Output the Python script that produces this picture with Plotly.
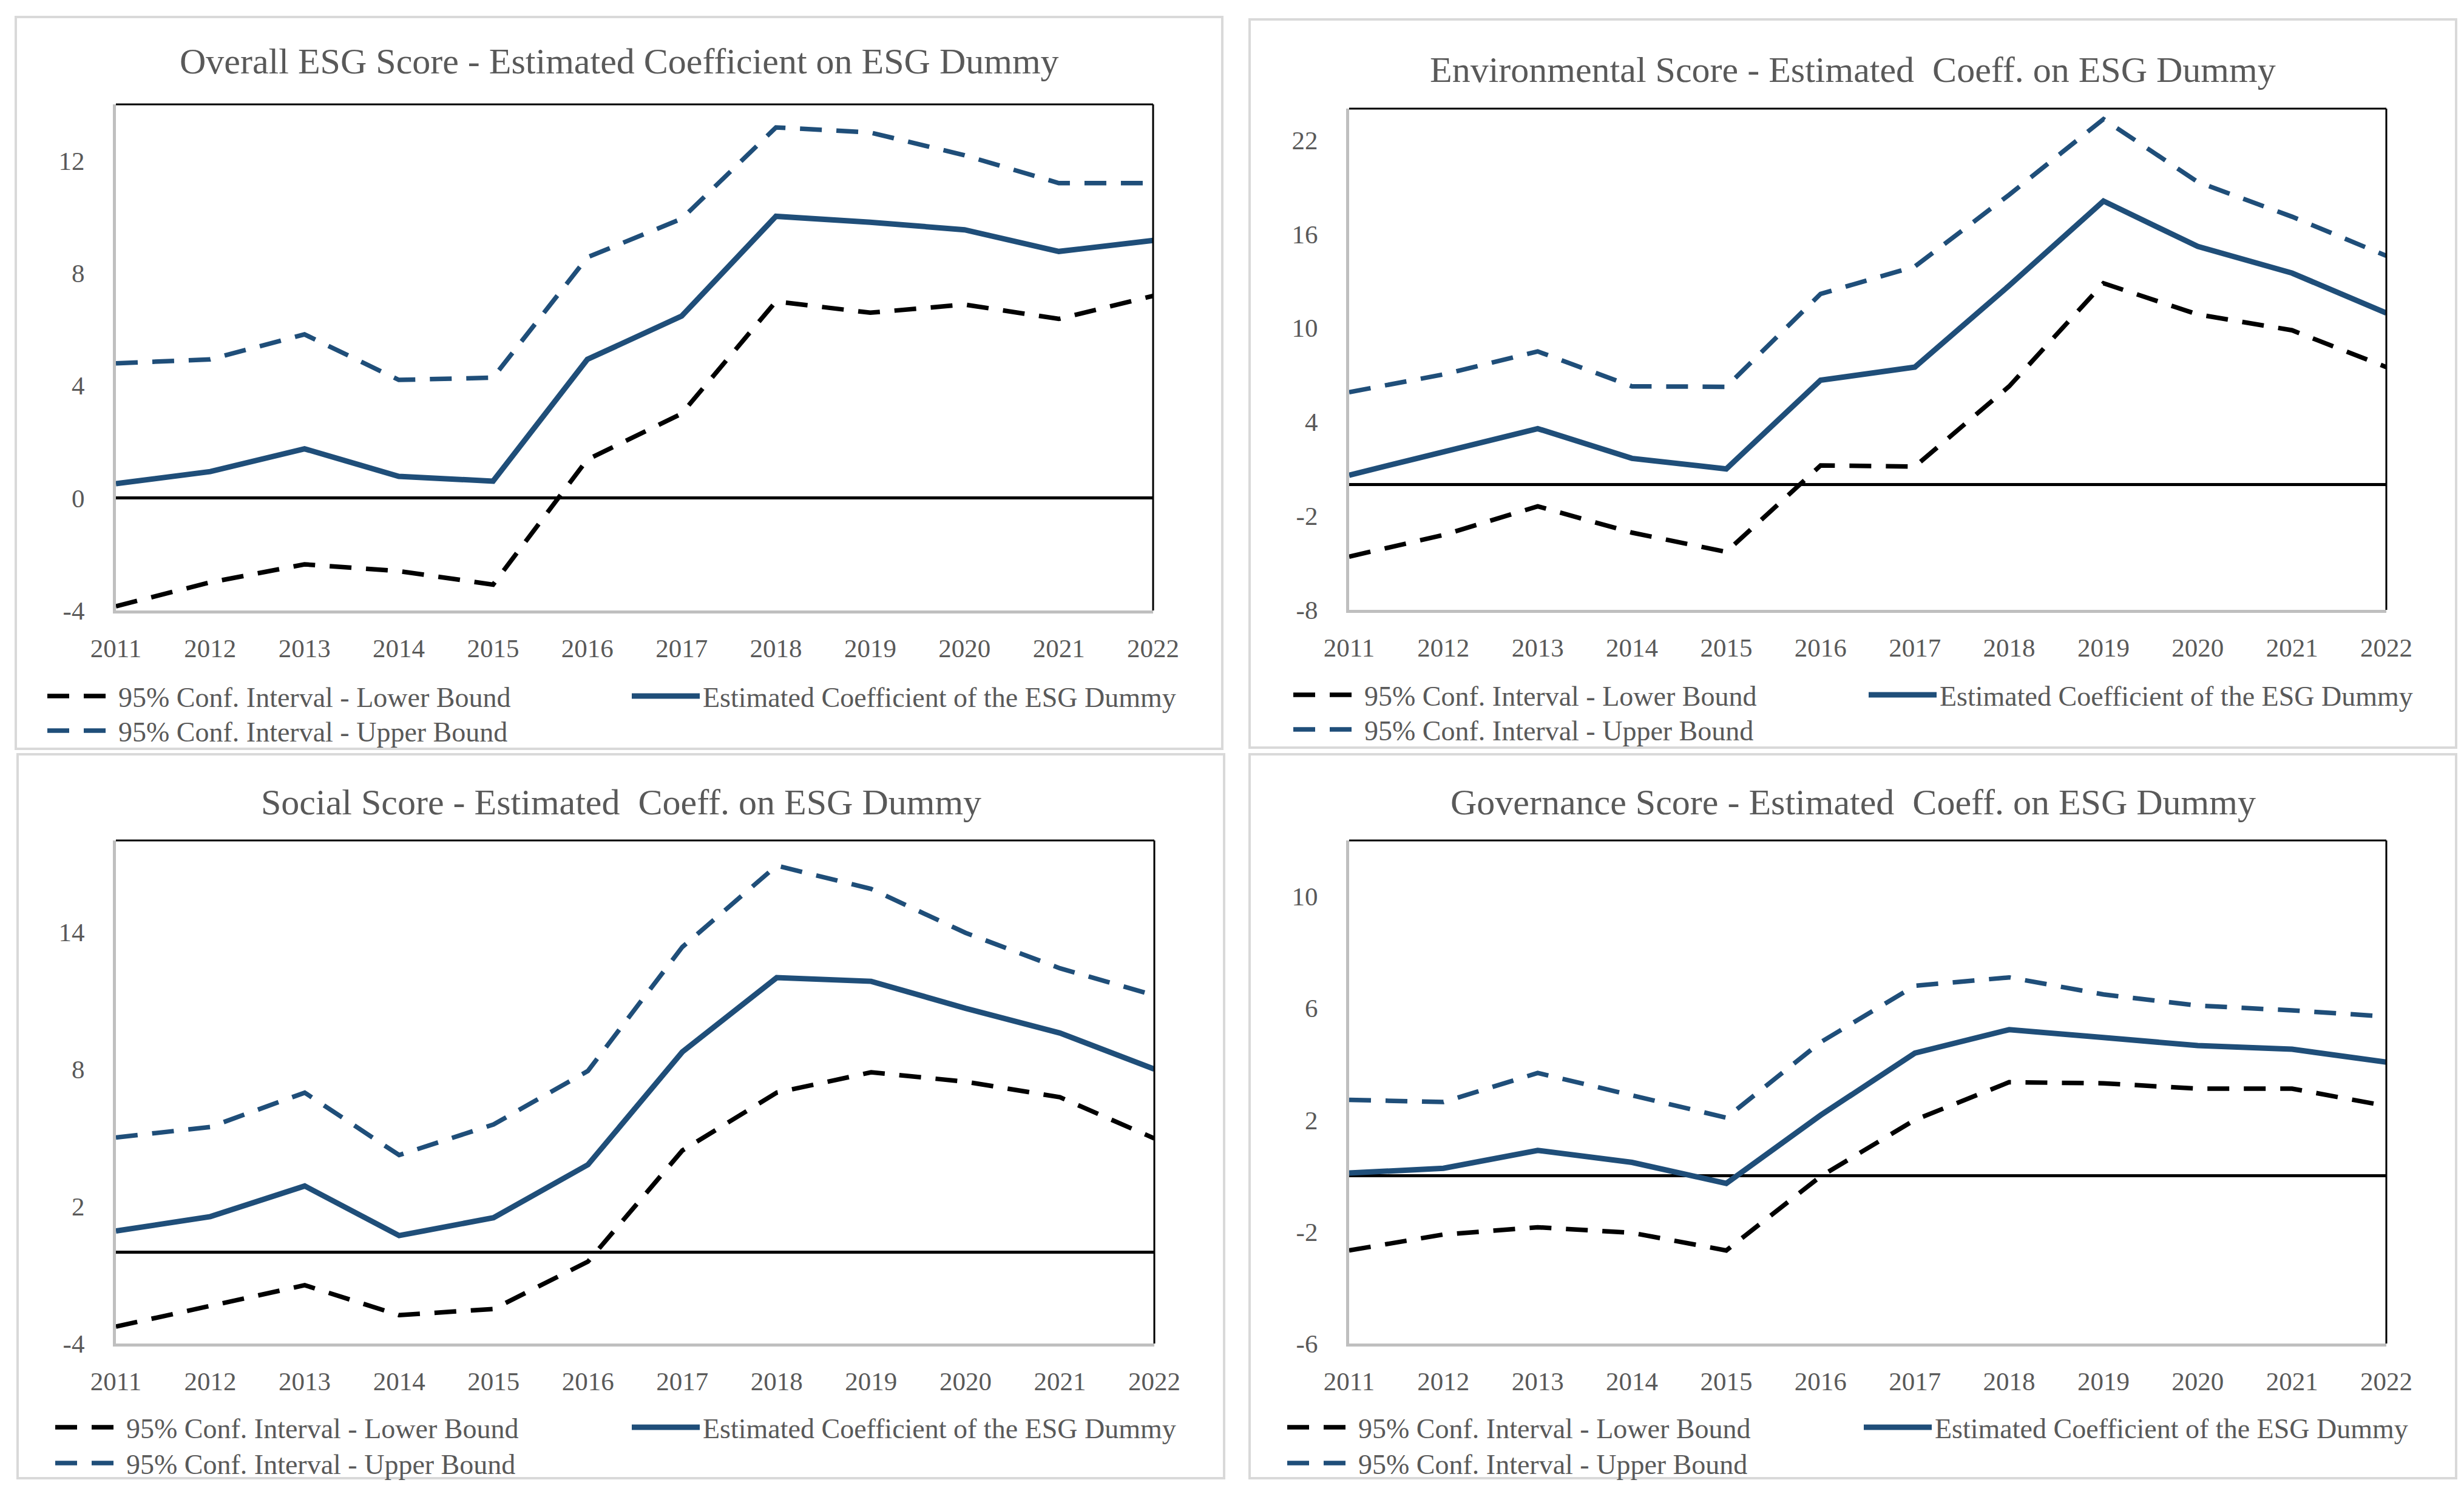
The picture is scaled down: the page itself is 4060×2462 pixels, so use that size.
import plotly.graph_objects as go
from plotly.subplots import make_subplots

# ---------------- data ----------------
years = [2011, 2012, 2013, 2014, 2015, 2016, 2017, 2018, 2019, 2020, 2021, 2022]
year_labels = ["2011", "2012", "2013", "2014", "2015", "2016", "2017", "2018", "2019", "2020", "2021", "2022"]

titles = [
    "Overall ESG Score - Estimated Coefficient on ESG Dummy",
    "Environmental Score - Estimated  Coeff. on ESG Dummy",
    "Social Score - Estimated  Coeff. on ESG Dummy",
    "Governance Score - Estimated  Coeff. on ESG Dummy",
]
series_names = [
    "95% Conf. Interval - Lower Bound",
    "Estimated Coefficient of the ESG Dummy",
    "95% Conf. Interval - Upper Bound",
]

esg_lower = [-3.85, -3.0, -2.36, -2.6, -3.08, 1.37, 3.0, 6.99, 6.59, 6.88, 6.37, 7.19]
esg_coef = [0.51, 0.94, 1.75, 0.77, 0.6, 4.93, 6.47, 10.02, 9.81, 9.54, 8.77, 9.16]
esg_upper = [4.79, 4.93, 5.82, 4.2, 4.28, 8.56, 9.93, 13.18, 13.0, 12.19, 11.2, 11.2]

env_lower = [-4.6, -3.22, -1.39, -3.07, -4.3, 1.22, 1.15, 6.27, 12.85, 10.86, 9.85, 7.5]
env_coef = [0.6, 2.07, 3.57, 1.67, 1.0, 6.66, 7.5, 12.7, 18.1, 15.2, 13.5, 10.95]
env_upper = [5.9, 7.03, 8.5, 6.27, 6.24, 12.17, 13.92, 18.5, 23.33, 19.32, 17.1, 14.6]

soc_lower = [-3.26, -2.34, -1.45, -2.76, -2.49, -0.42, 4.44, 6.97, 7.86, 7.45, 6.77, 4.97]
soc_coef = [0.92, 1.55, 2.89, 0.72, 1.5, 3.82, 8.75, 12.0, 11.84, 10.66, 9.58, 8.0]
soc_upper = [5.01, 5.47, 6.97, 4.24, 5.58, 7.92, 13.34, 16.9, 15.88, 13.96, 12.41, 11.23]

gov_lower = [-2.67, -2.1, -1.84, -2.04, -2.67, -0.02, 2.0, 3.35, 3.31, 3.12, 3.12, 2.5]
gov_coef = [0.1, 0.27, 0.91, 0.48, -0.27, 2.17, 4.39, 5.23, 4.95, 4.66, 4.53, 4.07]
gov_upper = [2.72, 2.64, 3.68, 2.89, 2.08, 4.78, 6.8, 7.1, 6.49, 6.09, 5.92, 5.7]

y_ticks = [
    [-4, 0, 4, 8, 12],
    [-8, -2, 4, 10, 16, 22],
    [-4, 2, 8, 14],
    [-6, -2, 2, 6, 10],
]
y_tick_labels = [
    ["-4", "0", "4", "8", "12"],
    ["-8", "-2", "4", "10", "16", "22"],
    ["-4", "2", "8", "14"],
    ["-6", "-2", "2", "6", "10"],
]
y_ranges = [[-4, 14], [-8, 24], [-4, 18], [-6, 12]]

panel_data = [
    (esg_lower, esg_coef, esg_upper),
    (env_lower, env_coef, env_upper),
    (soc_lower, soc_coef, soc_upper),
    (gov_lower, gov_coef, gov_upper),
]

# ---------------- layout geometry (reference pixels) ----------------
W, H, OFF = 4044, 2446, 8


def fx(X):
    return (X - OFF) / W


def fy(Y):
    return 1 - (Y - OFF) / H


plot_boxes = [  # x0, x1, ytop, ybottom
    (191, 1900, 172, 1006),
    (2223, 3932, 179, 1005),
    (191, 1902, 1385, 2214),
    (2223, 3932, 1385, 2214),
]
panel_boxes = [  # x0, x1, ytop, ybottom
    (26, 2014, 28, 1234),
    (2059, 4047, 32, 1232),
    (29, 2017, 1243, 2436),
    (2059, 4047, 1243, 2436),
]
title_y = [101, 115, 1322, 1322]
legend_pos = [  # lower/upper legend x, coef legend x, row1 y, row2 y
    (73, 1036, 1147, 1204),
    (2126, 3074, 1145, 1202),
    (86, 1036, 2352, 2411),
    (2116, 3066, 2352, 2411),
]

BLUE = "#1F4E79"
TXT = "#595959"
FONT = "Liberation Serif"
ITEMW = 112

fig = make_subplots(rows=2, cols=2)

shapes = []
annotations = []
legend_layouts = {}
leg_idx = 0

for i in range(4):
    r, c = i // 2 + 1, i % 2 + 1
    lo, co, up = panel_data[i]
    styles = [
        dict(color="black", width=7.5, dash="36px,24px"),
        dict(color=BLUE, width=9),
        dict(color=BLUE, width=7.5, dash="36px,24px"),
    ]
    lx, cx, ry1, ry2 = legend_pos[i]
    leg_places = [(lx, ry1), (cx, ry1), (lx, ry2)]
    for vals, name, st, (px, py) in zip((lo, co, up), series_names, styles, leg_places):
        leg_idx += 1
        lname = "legend" if leg_idx == 1 else f"legend{leg_idx}"
        fig.add_trace(
            go.Scatter(x=years, y=vals, mode="lines", name=name, line=st,
                       legend=lname, hoverinfo="skip"),
            row=r, col=c,
        )
        legend_layouts[lname] = dict(
            x=fx(px), y=fy(py), xanchor="left", yanchor="middle",
            bgcolor="rgba(0,0,0,0)", borderwidth=0, itemwidth=ITEMW,
            font=dict(family=FONT, size=46, color=TXT),
        )

    x0, x1, yt, yb = plot_boxes[i]
    xa = "xaxis" if i == 0 else f"xaxis{i + 1}"
    ya = "yaxis" if i == 0 else f"yaxis{i + 1}"
    fig.layout[xa].update(
        domain=[fx(x0), fx(x1)], range=[2011, 2022],
        tickmode="array", tickvals=years, ticktext=year_labels,
        showgrid=False, zeroline=False, showline=True,
        linecolor="#BFBFBF", linewidth=5, ticks="",
        ticklabelstandoff=20,
        tickfont=dict(family=FONT, size=43, color=TXT),
    )
    fig.layout[ya].update(
        domain=[fy(yb), fy(yt)], range=y_ranges[i],
        tickmode="array", tickvals=y_ticks[i], ticktext=y_tick_labels[i],
        showgrid=False, zeroline=True, zerolinecolor="black", zerolinewidth=5,
        showline=True, linecolor="#BFBFBF", linewidth=5, ticks="",
        ticklabelstandoff=38,
        tickfont=dict(family=FONT, size=43, color=TXT),
    )
    xr = "x" if i == 0 else f"x{i + 1}"
    yr = "y" if i == 0 else f"y{i + 1}"
    shapes.append(dict(type="line", xref=f"{xr} domain", yref=f"{yr} domain",
                       x0=0, x1=1, y0=1, y1=1, line=dict(color="black", width=3)))
    shapes.append(dict(type="line", xref=f"{xr} domain", yref=f"{yr} domain",
                       x0=1, x1=1, y0=0, y1=1, line=dict(color="black", width=3)))

    bx0, bx1, byt, byb = panel_boxes[i]
    shapes.append(dict(type="rect", xref="paper", yref="paper",
                       x0=fx(bx0), x1=fx(bx1), y0=fy(byb), y1=fy(byt),
                       line=dict(color="#D9D9D9", width=4), fillcolor="rgba(0,0,0,0)",
                       layer="below"))
    annotations.append(dict(
        text=titles[i], xref="paper", yref="paper",
        x=fx((bx0 + bx1) / 2), y=fy(title_y[i]), xanchor="center", yanchor="middle",
        showarrow=False, font=dict(family=FONT, size=60, color=TXT),
    ))

fig.update_layout(
    width=W, height=H, autosize=False,
    margin=dict(l=0, r=0, t=0, b=0, autoexpand=False),
    paper_bgcolor="white", plot_bgcolor="white",
    shapes=shapes, annotations=annotations,
    showlegend=True,
    **legend_layouts,
)

fig.write_html("out.html")
